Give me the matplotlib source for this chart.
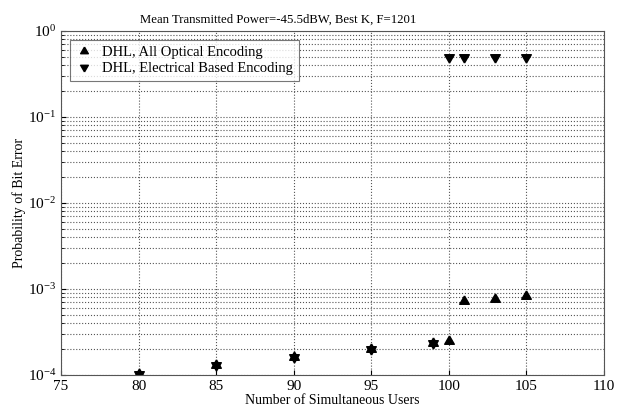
import matplotlib.pyplot as plt

users_opt = [80, 85, 90, 95, 99, 100, 101, 103, 105]
ber_opt = [1.02e-4, 1.3e-4, 1.6e-4, 2.0e-4, 2.35e-4, 2.5e-4, 7.3e-4, 7.7e-4, 8.2e-4]
users_el = [80, 85, 90, 95, 99, 100, 101, 103, 105]
ber_el = [1.02e-4, 1.3e-4, 1.6e-4, 2.0e-4, 2.35e-4, 0.5, 0.5, 0.5, 0.5]

plt.rcParams['font.family'] = ['Liberation Serif', 'DejaVu Serif']
plt.rcParams['mathtext.fontset'] = 'stix'
plt.rcParams['font.size'] = 10

# triangles centred on their centroid, so up+down overlap as a star
tri_up = [(0, 1), (-0.866, -0.5), (0.866, -0.5), (0, 1)]
tri_dn = [(0, -1), (-0.866, 0.5), (0.866, 0.5), (0, -1)]

fig = plt.figure(figsize=(6.27, 4.13), dpi=100)
ax = fig.add_axes([0.0973, 0.092, 0.866, 0.833])

ax.semilogy(users_opt, ber_opt, marker=tri_up, color='black', markersize=8,
            linestyle='none', label='DHL, All Optical Encoding')
ax.semilogy(users_el, ber_el, marker=tri_dn, color='black', markersize=8,
            linestyle='none', label='DHL, Electrical Based Encoding')

ax.set_xlim(75, 110)
ax.set_ylim(1e-4, 1)
ax.set_xticks([75, 80, 85, 90, 95, 100, 105, 110])
ax.grid(True, which='major', linestyle=':', color='#555555', linewidth=0.8)
ax.grid(True, which='minor', axis='y', linestyle=':', color='#555555', linewidth=0.8)
ax.tick_params(which='both', direction='in', labelsize=11)
for s in ax.spines.values():
    s.set_color('#555555')

ax.set_title('Mean Transmitted Power=-45.5dBW, Best K, F=1201', fontsize=9.2, x=0.40)
ax.set_xlabel('Number of Simultaneous Users', fontsize=10, labelpad=1)
ax.set_ylabel('Probability of Bit Error', fontsize=10, labelpad=1)

leg = ax.legend(loc='upper left', fancybox=False, edgecolor='#555555',
                fontsize=10.5, handlelength=1.2, borderaxespad=0.6,
                handletextpad=0.6, labelspacing=0.2, markerscale=0.8)
leg.get_frame().set_linewidth(0.8)

fig.savefig('out.png', dpi=100)
